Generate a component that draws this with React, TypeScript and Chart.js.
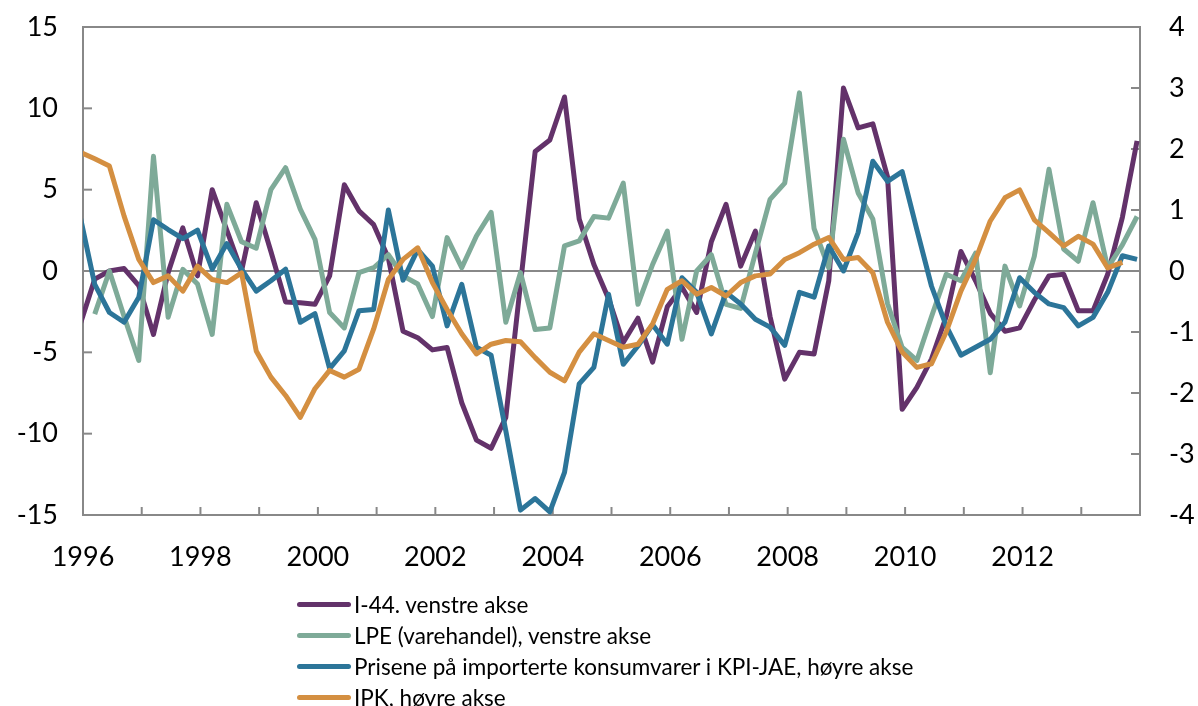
import React, { useEffect, useRef } from 'react';
import { Chart, registerables } from 'chart.js';

Chart.register(...registerables);

// Quarterly observations; the first one (late 1995) lies just left of the axis and is clipped.
const firstPeriod = 1995.95;
const periodStep = 0.25;

const i44: (number | null)[] = [
  -3.3, -0.5, 0.0, 0.15, -0.9, -3.9, -0.1, 2.65, -0.3, 5.0, 2.5, 0.0, 4.2,
  1.2, -1.9, -1.95, -2.05, -0.3, 5.3, 3.7, 2.85, 0.8, -3.7, -4.1, -4.85,
  -4.7, -8.1, -10.4, -10.9, -9.0, -0.8, 7.35, 8.05, 10.7, 3.2, 0.4, -1.7,
  -4.4, -2.9, -5.6, -2.2, -1.0, -2.55, 1.8, 4.1, 0.3, 2.45, -2.8, -6.65,
  -5.0, -5.1, -0.6, 11.25, 8.8, 9.05, 5.8, -8.5, -7.15, -5.4, -2.8, 1.2,
  -0.6, -2.6, -3.7, -3.5, -1.8, -0.3, -0.2, -2.45, -2.45, -0.2, 3.3, 8.0,
];

const lpe: (number | null)[] = [
  null, -2.65, 0.0, -2.8, -5.5, 7.05, -2.85, 0.1, -0.8, -3.9, 4.1, 1.8, 1.4,
  5.0, 6.35, 3.8, 1.95, -2.55, -3.5, -0.1, 0.2, 1.0, -0.3, -0.8, -2.8,
  2.05, 0.2, 2.15, 3.6, -3.15, -0.1, -3.6, -3.5, 1.55, 1.85, 3.35, 3.25,
  5.4, -2.05, 0.4, 2.45, -4.2, 0.0, 1.0, -2.05, -2.3, 1.1, 4.4, 5.4,
  10.95, 2.6, 0.2, 8.1, 4.8, 3.2, -2.0, -4.7, -5.5, -2.8, -0.2, -0.6,
  1.1, -6.25, 0.3, -2.15, 0.9, 6.25, 1.35, 0.6, 4.2, 0.2, 1.6, 3.35,
];

const importPrices: (number | null)[] = [
  0.9, -0.22, -0.68, -0.84, -0.43, 0.84, 0.68, 0.53, 0.67, 0.03, 0.45, 0.03,
  -0.33, -0.16, 0.03, -0.84, -0.7, -1.6, -1.31, -0.65, -0.63, 1.0, -0.15,
  0.35, 0.08, -0.9, -0.22, -1.25, -1.38, -2.62, -3.92, -3.73, -3.95, -3.3,
  -1.85, -1.58, -0.38, -1.53, -1.23, -0.88, -1.2, -0.11, -0.35, -1.03,
  -0.35, -0.54, -0.79, -0.92, -1.22, -0.35, -0.43, 0.41, 0.0, 0.63, 1.8,
  1.47, 1.63, 0.68, -0.25, -0.9, -1.38, -1.25, -1.12, -0.84, -0.11, -0.35,
  -0.54, -0.6, -0.9, -0.76, -0.35, 0.25, 0.19,
];

const ipk: (number | null)[] = [
  1.95, 1.84, 1.72, 0.9, 0.19, -0.19, -0.08, -0.33, 0.08, -0.14, -0.19,
  -0.03, -1.31, -1.74, -2.04, -2.4, -1.93, -1.63, -1.74, -1.61, -0.95,
  -0.14, 0.19, 0.38, -0.19, -0.63, -1.03, -1.36, -1.2, -1.14, -1.16, -1.42,
  -1.66, -1.8, -1.33, -1.03, -1.14, -1.25, -1.2, -0.87, -0.3, -0.16, -0.38,
  -0.27, -0.41, -0.19, -0.08, -0.05, 0.19, 0.3, 0.44, 0.55, 0.19, 0.22,
  -0.03, -0.84, -1.33, -1.58, -1.52, -1.0, -0.33, 0.19, 0.82, 1.2, 1.33,
  0.84, 0.63, 0.41, 0.57, 0.44, 0.05, 0.14, null,
];

const xTickLabels = ['1996', '1998', '2000', '2002', '2004', '2006', '2008', '2010', '2012'];
const leftTicks = [-15, -10, -5, 0, 5, 10, 15];
const rightTicks = [-4, -3, -2, -1, 0, 1, 2, 3, 4];

const seriesNames = [
  'I-44. venstre akse',
  'LPE (varehandel), venstre akse',
  'Prisene på importerte konsumvarer i KPI-JAE, høyre akse',
  'IPK, høyre akse',
];
const seriesColors = ['#63326A', '#7EAA98', '#2C7599', '#D48F41'];

const FONT = 'Lato, "Open Sans", "DejaVu Sans", sans-serif';
const AXIS_GRAY = '#888888';

const toPoints = (vals: (number | null)[]) =>
  vals
    .map((v, i) => (v === null ? null : { x: firstPeriod + i * periodStep, y: v }))
    .filter((p) => p !== null) as { x: number; y: number }[];

const framePlugin = {
  id: 'frameAndTicks',
  beforeDatasetsDraw(chart: any) {
    const { ctx, chartArea: a, scales } = chart;
    const line = (x1: number, y1: number, x2: number, y2: number) => {
      ctx.beginPath();
      ctx.moveTo(x1, y1);
      ctx.lineTo(x2, y2);
      ctx.stroke();
    };
    ctx.save();
    ctx.strokeStyle = AXIS_GRAY;
    ctx.lineWidth = 2;
    const y0 = scales.y.getPixelForValue(0);
    line(a.left, y0, a.right, y0);
    ctx.strokeRect(a.left, a.top, a.right - a.left, a.bottom - a.top);
    scales.y.ticks.forEach((t: any) => {
      const y = scales.y.getPixelForValue(t.value);
      line(a.left, y, a.left + 9, y);
    });
    scales.y1.ticks.forEach((t: any) => {
      const y = scales.y1.getPixelForValue(t.value);
      line(a.right - 9, y, a.right, y);
    });
    scales.x.ticks.forEach((t: any) => {
      const x = scales.x.getPixelForValue(t.value);
      line(x, a.bottom, x, a.bottom - 8);
    });
    ctx.restore();
  },
};

export default function App() {
  const canvasRef = useRef<HTMLCanvasElement | null>(null);

  useEffect(() => {
    if (!canvasRef.current) return;
    const seriesData = [i44, lpe, importPrices, ipk];
    const axes = ['y', 'y', 'y1', 'y1'];
    const orders = [3, 2, 1, 0];
    const chart = new Chart(canvasRef.current, {
      type: 'line',
      data: {
        datasets: seriesData.map((vals, i) => ({
          label: seriesNames[i],
          data: toPoints(vals),
          borderColor: seriesColors[i],
          backgroundColor: seriesColors[i],
          borderWidth: 5,
          pointRadius: 0,
          tension: 0,
          fill: false,
          yAxisID: axes[i],
          order: orders[i],
          borderJoinStyle: 'round' as const,
        })),
      },
      options: {
        animation: false,
        responsive: false,
        maintainAspectRatio: false,
        parsing: false as any,
        layout: { padding: { left: 0, right: 0, top: 27, bottom: 131 } },
        plugins: { legend: { display: false }, tooltip: { enabled: false } },
        scales: {
          x: {
            type: 'linear',
            min: 1996,
            max: 2014,
            grid: { display: false, drawTicks: true, tickLength: 26 },
            border: { display: false },
            afterFit: (s: any) => {
              s.height = 60;
            },
            ticks: {
              stepSize: 1,
              autoSkip: false,
              maxRotation: 0,
              padding: 0,
              color: '#000',
              font: { family: FONT, size: 27 },
              callback: (v: any) => {
                const s = String(v);
                return xTickLabels.includes(s) ? s : '';
              },
            },
          },
          y: {
            type: 'linear',
            position: 'left',
            min: -15,
            max: 15,
            grid: { display: false, drawTicks: true, tickLength: 25 },
            border: { display: false },
            afterFit: (s: any) => {
              s.width = 83;
            },
            afterBuildTicks: (s: any) => {
              s.ticks = leftTicks.map((v) => ({ value: v }));
            },
            ticks: {
              padding: 0,
              color: '#000',
              font: { family: FONT, size: 27 },
            },
          },
          y1: {
            type: 'linear',
            position: 'right',
            min: -4,
            max: 4,
            grid: { display: false, drawTicks: true, tickLength: 29 },
            border: { display: false },
            afterFit: (s: any) => {
              s.width = 58;
            },
            afterBuildTicks: (s: any) => {
              s.ticks = rightTicks.map((v) => ({ value: v }));
            },
            ticks: {
              padding: 0,
              color: '#000',
              font: { family: FONT, size: 27 },
            },
          },
        },
      },
      plugins: [framePlugin],
    });
    return () => chart.destroy();
  }, []);

  return (
    <div style={{ position: 'fixed', left: 0, top: 0, width: 1198, height: 706, background: '#fff', overflow: 'hidden' }}>
      <canvas ref={canvasRef} width={1198} height={706} style={{ display: 'block' }} />
      <div style={{ position: 'absolute', left: 297, top: 589, fontFamily: FONT, fontSize: 22.5, color: '#000' }}>
        {seriesNames.map((name, i) => (
          <div key={name} style={{ display: 'flex', alignItems: 'center', height: 31, whiteSpace: 'nowrap' }}>
            <span
              style={{
                display: 'inline-block',
                width: 54,
                height: 5,
                borderRadius: 3,
                background: seriesColors[i],
                marginRight: 3,
              }}
            />
            <span>{name}</span>
          </div>
        ))}
      </div>
    </div>
  );
}
